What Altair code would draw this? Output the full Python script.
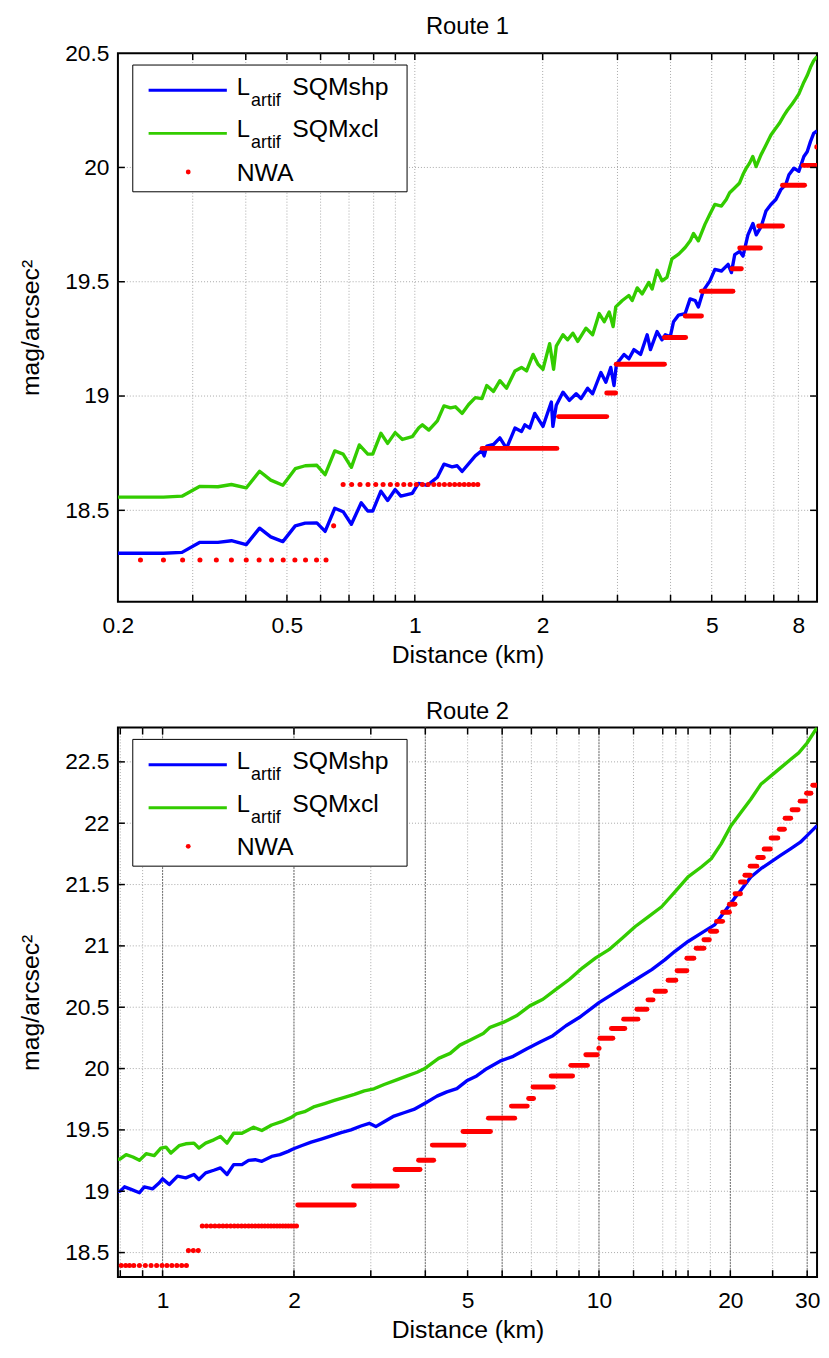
import altair as alt
import pandas as pd

FONT = "Liberation Sans"

# ---------------- Route 1 ----------------
R1_BLUE_D = [0.2, 0.226, 0.256, 0.283, 0.312, 0.344, 0.370, 0.401, 0.431, 0.458, 0.489, 0.523, 0.552, 0.588,
             0.615, 0.648, 0.678, 0.709, 0.748, 0.775, 0.796, 0.832, 0.863, 0.899, 0.927, 0.986, 1.02, 1.07,
             1.13, 1.171, 1.224, 1.258, 1.292, 1.388, 1.439, 1.456, 1.477, 1.532, 1.586, 1.644, 1.721, 1.783,
             1.816, 1.865, 1.916, 2.003, 2.096, 2.114, 2.153, 2.232, 2.312, 2.398, 2.462, 2.552, 2.622, 2.742,
             2.817, 2.893, 2.944, 2.983, 3.108, 3.192, 3.28, 3.4, 3.524, 3.587, 3.718, 3.819, 3.888, 3.994,
             4.065, 4.177, 4.33, 4.447, 4.571, 4.651, 4.777, 4.952, 5.087, 5.272, 5.465, 5.564, 5.665, 5.819,
             5.924, 6.085, 6.252, 6.365, 6.536, 6.71, 6.893, 7.08, 7.272, 7.47, 7.6, 7.81, 8.02, 8.24, 8.39,
             8.54, 8.69, 8.85]
R1_BLUE_V = [18.312, 18.312, 18.312, 18.316, 18.36, 18.36, 18.367, 18.35, 18.422, 18.384, 18.363, 18.432, 18.444,
             18.445, 18.408, 18.509, 18.494, 18.439, 18.533, 18.497, 18.497, 18.584, 18.543, 18.591, 18.562,
             18.574, 18.618, 18.609, 18.645, 18.702, 18.69, 18.695, 18.67, 18.738, 18.762, 18.738, 18.781,
             18.788, 18.817, 18.771, 18.86, 18.845, 18.874, 18.86, 18.924, 18.867, 18.974, 18.867, 18.96,
             19.017, 18.981, 19.01, 18.989, 19.034, 19.01, 19.103, 19.06, 19.125, 19.046, 19.139, 19.182,
             19.163, 19.203, 19.182, 19.268, 19.203, 19.282, 19.246, 19.268, 19.26, 19.325, 19.354, 19.361,
             19.425, 19.418, 19.39, 19.461, 19.504, 19.554, 19.547, 19.576, 19.54, 19.619, 19.633, 19.612,
             19.705, 19.755, 19.705, 19.741, 19.809, 19.838, 19.86, 19.903, 19.925, 19.968, 19.997, 19.983,
             20.048, 20.069, 20.113, 20.149, 20.16]

R1_GREEN_D = [0.2, 0.226, 0.256, 0.283, 0.312, 0.344, 0.370, 0.401, 0.431, 0.458, 0.489, 0.523, 0.552, 0.588,
              0.615, 0.648, 0.678, 0.709, 0.740, 0.775, 0.796, 0.832, 0.863, 0.899, 0.935, 0.986, 1.022, 1.042,
              1.079, 1.13, 1.171, 1.213, 1.246, 1.292, 1.339, 1.388, 1.439, 1.477, 1.532, 1.586, 1.644, 1.721,
              1.783, 1.833, 1.899, 1.95, 2.003, 2.077, 2.122, 2.153, 2.232, 2.29, 2.355, 2.419, 2.529, 2.622,
              2.717, 2.792, 2.868, 2.93, 2.972, 3.08, 3.19, 3.25, 3.339, 3.43, 3.556, 3.62, 3.718, 3.819, 3.923,
              4.03, 4.18, 4.33, 4.45, 4.53, 4.65, 4.82, 4.95, 5.085, 5.27, 5.41, 5.51, 5.66, 5.815, 5.92, 6.03,
              6.14, 6.247, 6.36, 6.53, 6.71, 6.893, 7.02, 7.21, 7.40, 7.535, 7.74, 7.88, 8.02, 8.24, 8.39, 8.54,
              8.69, 8.85]
R1_GREEN_V = [18.558, 18.558, 18.558, 18.562, 18.605, 18.603, 18.613, 18.598, 18.671, 18.632, 18.61, 18.682,
              18.695, 18.697, 18.656, 18.76, 18.746, 18.688, 18.786, 18.746, 18.746, 18.837, 18.793, 18.84,
              18.81, 18.822, 18.861, 18.874, 18.851, 18.891, 18.957, 18.948, 18.953, 18.924, 18.963, 18.993,
              18.989, 19.046, 19.02, 19.067, 19.034, 19.11, 19.125, 19.11, 19.182, 19.139, 19.117, 19.229,
              19.117, 19.218, 19.268, 19.246, 19.275, 19.239, 19.297, 19.268, 19.361, 19.325, 19.368, 19.304,
              19.39, 19.418, 19.44, 19.418, 19.473, 19.447, 19.497, 19.468, 19.55, 19.504, 19.519, 19.6, 19.621,
              19.65, 19.679, 19.711, 19.679, 19.751, 19.795, 19.838, 19.831, 19.86, 19.889, 19.91, 19.932,
              19.968, 19.997, 20.019, 20.048, 20.004, 20.055, 20.098, 20.142, 20.163, 20.192, 20.228, 20.25,
              20.279, 20.3, 20.322, 20.373, 20.402, 20.438, 20.467, 20.485]

R1_DOT_D = [0.226, 0.256, 0.284, 0.312, 0.341, 0.370, 0.401, 0.430, 0.460, 0.490, 0.522, 0.553, 0.587, 0.618,
            0.644,
            0.678, 0.710, 0.743, 0.776, 0.809, 0.842, 0.876, 0.909, 0.942, 0.975, 1.008, 1.042, 1.075, 1.108,
            1.141, 1.174, 1.208, 1.241, 1.274, 1.307, 1.340, 1.374, 1.407,
            8.84]
R1_DOT_V = [18.283] * 14 + [18.432] + [18.613] * 23 + [20.09]

R1_SEG_V = [18.771, 18.91, 19.013, 19.139, 19.256, 19.35, 19.458, 19.557, 19.648, 19.744, 19.922, 20.009]
R1_SEG_D1 = [1.44, 2.18, 2.83, 2.98, 3.87, 4.33, 4.73, 5.58, 5.82, 6.45, 7.34, 8.21]
R1_SEG_D2 = [2.16, 2.83, 2.97, 3.87, 4.34, 4.73, 5.61, 5.87, 6.51, 7.34, 8.27, 8.82]

R1_XLABELS = [0.2, 0.5, 1, 2, 5, 8]
R1_XGRID = [0.3, 0.4, 0.5, 0.6, 0.7, 0.8, 0.9, 1, 2, 3, 4, 5, 6, 7, 8]
R1_YLABELS = [18.5, 19, 19.5, 20, 20.5]
R1_YGRID = [18.5, 19, 19.5, 20]

# ---------------- Route 2 ----------------
R2_BLUE_D = [0.79, 0.80, 0.818, 0.847, 0.885, 0.908, 0.949, 0.983, 1.0, 1.036, 1.082, 1.13, 1.18, 1.211, 1.255,
             1.31, 1.357, 1.405, 1.455, 1.52, 1.574, 1.63, 1.688, 1.778, 1.857, 1.94, 1.99, 2.08, 2.19, 2.31,
             2.435, 2.565, 2.703, 2.848, 2.976, 3.08, 3.219, 3.391, 3.573, 3.765, 4.003, 4.254, 4.482, 4.724,
             4.977, 5.245, 5.53, 5.93, 6.36, 6.82, 7.31, 7.84, 8.4, 9.01, 9.66, 10.0, 10.72, 11.5, 12.33, 13.21,
             14.17, 14.93, 16.0, 17.16, 18.4, 19.39, 20.43, 21.14, 22.28, 23.49, 24.74, 26.06, 27.47, 28.94,
             29.98, 31.6]
R2_BLUE_V = [19.0, 19.001, 19.036, 19.015, 18.988, 19.036, 19.02, 19.069, 19.101, 19.055, 19.123, 19.109, 19.136,
             19.096, 19.15, 19.171, 19.19, 19.136, 19.217, 19.217, 19.252, 19.257, 19.244, 19.284, 19.298,
             19.325, 19.344, 19.371, 19.4, 19.425, 19.451, 19.478, 19.5, 19.532, 19.554, 19.527, 19.567, 19.613,
             19.64, 19.667, 19.72, 19.775, 19.81, 19.837, 19.9, 19.94, 19.999, 20.06, 20.1, 20.16, 20.214,
             20.268, 20.349, 20.416, 20.497, 20.538, 20.605, 20.673, 20.74, 20.807, 20.888, 20.956, 21.036,
             21.104, 21.171, 21.279, 21.387, 21.454, 21.562, 21.629, 21.683, 21.737, 21.791, 21.845, 21.899,
             21.98]

R2_GREEN_D = [0.79, 0.8, 0.825, 0.855, 0.885, 0.917, 0.957, 0.991, 1.018, 1.045, 1.091, 1.13, 1.18, 1.211, 1.255,
              1.31, 1.357, 1.405, 1.455, 1.52, 1.616, 1.688, 1.778, 1.874, 1.973, 2.026, 2.115, 2.229, 2.351,
              2.475, 2.611, 2.751, 2.899, 3.05, 3.219, 3.45, 3.635, 3.83, 4.0, 4.29, 4.56, 4.8, 5.06, 5.43, 5.63,
              6.03, 6.47, 6.94, 7.44, 7.97, 8.55, 9.17, 9.83, 10.54, 11.3, 12.11, 12.99, 13.92, 14.93, 16.0,
              17.16, 18.08, 19.05, 20.07, 21.14, 22.28, 23.49, 24.74, 26.06, 27.47, 28.69, 29.98, 31.6]
R2_GREEN_V = [19.26, 19.263, 19.298, 19.279, 19.252, 19.306, 19.29, 19.352, 19.36, 19.311, 19.371, 19.387,
              19.392, 19.352, 19.392, 19.419, 19.446, 19.392, 19.473, 19.473, 19.522, 19.495, 19.54, 19.567,
              19.602, 19.63, 19.648, 19.69, 19.715, 19.74, 19.765, 19.79, 19.818, 19.835, 19.87, 19.91, 19.94,
              19.97, 20.003, 20.083, 20.124, 20.191, 20.231, 20.285, 20.336, 20.376, 20.43, 20.511, 20.565,
              20.646, 20.726, 20.821, 20.902, 20.969, 21.063, 21.158, 21.239, 21.319, 21.441, 21.562, 21.643,
              21.71, 21.832, 21.98, 22.088, 22.195, 22.317, 22.384, 22.451, 22.519, 22.573, 22.654, 22.78]

R2_DOT_D = [0.804, 0.823, 0.840, 0.859, 0.885, 0.913, 0.941, 0.969, 0.997, 1.023, 1.05, 1.078, 1.106, 1.134,
            1.146, 1.176, 1.207,
            1.233, 1.261, 1.290, 1.318, 1.347, 1.375, 1.403, 1.432, 1.460, 1.488, 1.517, 1.545, 1.574, 1.602,
            1.630, 1.659, 1.687, 1.715, 1.744, 1.772, 1.800, 1.829, 1.857, 1.886, 1.914, 1.942, 1.971, 1.999,
            2.027,
            10.0]
R2_DOT_V = [18.395] * 14 + [18.516] * 3 + [18.716] * 29 + [20.166]

R2_SEG_V = [18.888, 19.042, 19.177, 19.252, 19.376, 19.487, 19.596, 19.694, 19.756, 19.85, 19.939, 20.026,
            20.112, 20.247, 20.327, 20.403, 20.484, 20.56, 20.63, 20.72, 20.797, 20.9, 20.98, 21.05, 21.12,
            21.2, 21.275, 21.34, 21.425, 21.52, 21.575, 21.65, 21.72, 21.79, 21.88, 21.95, 22.04, 22.11, 22.18,
            22.245, 22.31]
R2_SEG_D1 = [2.04, 2.74, 3.41, 3.86, 4.15, 4.88, 5.58, 6.30, 6.90, 7.06, 7.77, 8.62, 9.33, 10.05, 10.68, 11.39,
             12.22, 12.95, 13.45, 14.4, 15.1, 15.9, 16.7, 17.4, 18.0, 18.6, 19.2, 19.9, 20.5, 21.1, 21.6, 22.2,
             23.1, 23.9, 24.8, 25.9, 26.7, 27.7, 28.9, 29.9, 30.9]
R2_SEG_D2 = [2.75, 3.45, 3.89, 4.18, 4.91, 5.64, 6.41, 6.85, 7.08, 7.86, 8.70, 9.41, 9.91, 10.76, 11.46, 12.28,
             12.88, 13.30, 14.2, 15.0, 15.9, 16.5, 17.4, 17.9, 18.6, 19.2, 19.9, 20.5, 21.1, 21.6, 22.2, 23.0,
             23.8, 24.7, 25.7, 26.6, 27.5, 28.6, 29.7, 30.6, 31.5]

R2_XLABELS = [1, 2, 5, 10, 20, 30]
R2_XGRID = [0.8, 0.9, 1, 2, 3, 4, 5, 6, 7, 8, 9, 10, 12, 14, 15, 16, 18, 20, 25, 30]
R2_XDARK = [1, 2, 4, 6, 10, 20, 30]
R2_YLABELS = [18.5, 19, 19.5, 20, 20.5, 21, 21.5, 22, 22.5]
R2_YGRID = [18.5, 19, 19.5, 20, 20.5, 21, 21.5, 22, 22.5]

LEGEND_LABELS = ["SQMshp", "SQMxcl", "NWA"]

BLUE = "#0000ff"
GREEN = "#33cc00"
RED = "#ff0000"
W = 706


def panel(title, h, xdom, ydom, blue, green, dots, segs, xlabels, xgrid, ylabels, ygrid, xdark=None):
    xs = alt.Scale(type="log", domain=xdom, nice=False)
    ys = alt.Scale(domain=ydom, nice=False, zero=False)
    one = pd.DataFrame({"k": [0]})

    common = dict(grid=False, ticks=False, domain=False, labelOverlap=False,
                  labelFont=FONT, labelFontSize=23, labelColor="black",
                  titleFont=FONT, titleFontSize=25, titleFontWeight="normal", titleColor="black")
    xaxis = alt.Axis(values=xlabels, format="~g", title="Distance (km)",
                     labelPadding=13, titlePadding=5, labelFlush=False, **common)
    yaxis = alt.Axis(values=ylabels, format="~g", title="mag/arcsec²",
                     labelPadding=9, titlePadding=21, **common)

    def X():
        return alt.X("d:Q", scale=xs, axis=xaxis)

    def Y():
        return alt.Y("v:Q", scale=ys, axis=yaxis)

    xgrid_df = pd.DataFrame({"d": xgrid})
    ygrid_df = pd.DataFrame({"v": ygrid})

    layers = []
    layers.append(alt.Chart(xgrid_df).mark_rule(color="#a8a8a8", strokeWidth=1, strokeDash=[1, 2]).encode(x=X()))
    layers.append(alt.Chart(ygrid_df).mark_rule(color="#a8a8a8", strokeWidth=1, strokeDash=[1, 2]).encode(y=Y()))
    if xdark:
        layers.append(alt.Chart(pd.DataFrame({"d": xdark})).mark_rule(
            color="#707070", strokeWidth=1, strokeDash=[2, 1]).encode(x=X()))

    bdf = pd.DataFrame({"d": blue[0], "v": blue[1]})
    gdf = pd.DataFrame({"d": green[0], "v": green[1]})
    layers.append(alt.Chart(bdf).mark_line(color=BLUE, strokeWidth=3.4, clip=True, strokeJoin="round").encode(
        x=X(), y=Y()))
    layers.append(alt.Chart(gdf).mark_line(color=GREEN, strokeWidth=3.4, clip=True, strokeJoin="round").encode(
        x=X(), y=Y()))

    sdf = pd.DataFrame({"d": segs[1], "d2": segs[2], "v": segs[0]})
    layers.append(alt.Chart(sdf).mark_rule(color=RED, strokeWidth=5, strokeCap="round", clip=True).encode(
        x=X(), x2="d2:Q", y=Y()))
    ddf = pd.DataFrame({"d": dots[0], "v": dots[1]})
    layers.append(alt.Chart(ddf).mark_circle(color=RED, size=26, opacity=1, clip=True).encode(x=X(), y=Y()))

    # inward ticks on all four sides
    layers.append(alt.Chart(xgrid_df).mark_rule(color="black", strokeWidth=1.5).encode(
        x=X(), y=alt.value(h), y2=alt.value(h - 7)))
    layers.append(alt.Chart(xgrid_df).mark_rule(color="black", strokeWidth=1.5).encode(
        x=X(), y=alt.value(0), y2=alt.value(7)))
    layers.append(alt.Chart(ygrid_df).mark_rule(color="black", strokeWidth=1.5).encode(
        y=Y(), x=alt.value(0), x2=alt.value(7)))
    layers.append(alt.Chart(ygrid_df).mark_rule(color="black", strokeWidth=1.5).encode(
        y=Y(), x=alt.value(W - 7), x2=alt.value(W)))

    # legend box
    layers.append(alt.Chart(one).mark_rect(fill="white", stroke="black", strokeWidth=1).encode(
        x=alt.value(15), x2=alt.value(292), y=alt.value(12), y2=alt.value(140)))
    layers.append(alt.Chart(one).mark_rule(color=BLUE, strokeWidth=3).encode(
        x=alt.value(31), x2=alt.value(110), y=alt.value(37.5)))
    layers.append(alt.Chart(one).mark_rule(color=GREEN, strokeWidth=3).encode(
        x=alt.value(31), x2=alt.value(110), y=alt.value(81)))
    layers.append(alt.Chart(one).mark_circle(color=RED, size=24, opacity=1).encode(
        x=alt.value(71), y=alt.value(120)))
    for yb, lab in [(42, LEGEND_LABELS[0]), (85, LEGEND_LABELS[1])]:
        layers.append(alt.Chart(one).mark_text(align="left", baseline="alphabetic", font=FONT, fontSize=24,
                                               color="black").encode(
            x=alt.value(120), y=alt.value(yb), text=alt.value("L")))
        layers.append(alt.Chart(one).mark_text(align="left", baseline="alphabetic", font=FONT, fontSize=18,
                                               color="black").encode(
            x=alt.value(134.5), y=alt.value(yb + 11), text=alt.value("artif")))
        layers.append(alt.Chart(one).mark_text(align="left", baseline="alphabetic", font=FONT, fontSize=25,
                                               color="black").encode(
            x=alt.value(176), y=alt.value(yb), text=alt.value(lab)))
    layers.append(alt.Chart(one).mark_text(align="left", baseline="alphabetic", font=FONT, fontSize=25,
                                           color="black").encode(
        x=alt.value(120), y=alt.value(129), text=alt.value(LEGEND_LABELS[2])))

    return alt.layer(*layers).properties(
        width=W, height=h,
        title=alt.TitleParams(title, fontSize=24, font=FONT, fontWeight="normal", color="black", offset=3))


p1 = panel("Route 1", 554, [0.2, 8.85], [18.1, 20.5],
           (R1_BLUE_D, R1_BLUE_V), (R1_GREEN_D, R1_GREEN_V), (R1_DOT_D, R1_DOT_V),
           (R1_SEG_V, R1_SEG_D1, R1_SEG_D2), R1_XLABELS, R1_XGRID, R1_YLABELS, R1_YGRID)
p2 = panel("Route 2", 555, [0.79, 31.6], [18.3, 22.78],
           (R2_BLUE_D, R2_BLUE_V), (R2_GREEN_D, R2_GREEN_V), (R2_DOT_D, R2_DOT_V),
           (R2_SEG_V, R2_SEG_D1, R2_SEG_D2), R2_XLABELS, R2_XGRID, R2_YLABELS, R2_YGRID, xdark=R2_XDARK)

chart = alt.vconcat(p1, p2, spacing=31).properties(
    padding={"left": 10, "right": 0, "top": 0, "bottom": 0},
    background="white",
).configure_view(stroke="black", strokeWidth=2)

chart.save("out.html", embed_options={"renderer": "svg", "actions": False})
